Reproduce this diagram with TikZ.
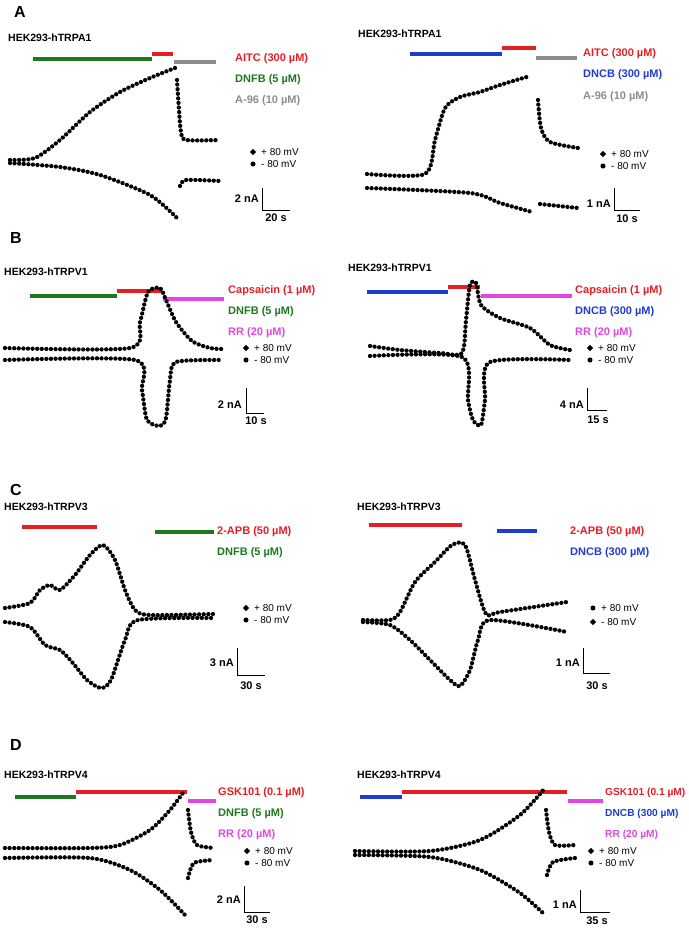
\documentclass[tikz,border=0pt]{standalone}
\usepackage{fontspec}
\setmainfont{Liberation Sans}
\definecolor{cred}{RGB}{230,30,35}
\definecolor{cgreen}{RGB}{30,120,30}
\definecolor{cblue}{RGB}{30,60,210}
\definecolor{cgray}{RGB}{140,140,140}
\definecolor{cmag}{RGB}{225,70,225}
\tikzset{
 trace/.style={line width=4.3pt,dash pattern=on 0pt off 4.6pt,line cap=round},
 bar/.style={line width=3.4pt},
 lab/.style={anchor=west,font=\bfseries\fontsize{11}{13}\selectfont,inner sep=0pt},
 labs/.style={anchor=west,font=\bfseries\fontsize{10.2}{12}\selectfont,inner sep=0pt},
 ttl/.style={anchor=west,font=\bfseries\fontsize{10.5}{12}\selectfont,inner sep=0pt},
 pan/.style={anchor=west,font=\bfseries\fontsize{16}{18}\selectfont,inner sep=0pt},
 leg/.style={anchor=west,font=\fontsize{10}{12}\selectfont,inner sep=0pt},
 sc/.style={font=\bfseries\fontsize{11}{13}\selectfont,inner sep=0pt},
 sb/.style={line width=0.9pt}
}
\newcommand{\legmark}[3]{%
 \node[diamond,fill=black,inner sep=1.6pt] (d#3) at (#1,#2) {};
 \node[leg] (dl#3) at (#1+8,#2) {+ 80 mV};
 \node[circle,fill=black,inner sep=1.8pt] (c#3) at (#1,#2+12) {};
 \node[leg] (cl#3) at (#1+8,#2+12) {- 80 mV};}
\usetikzlibrary{shapes.geometric}
\begin{document}
\begin{tikzpicture}[x=1pt,y=-1pt,smooth/.append style={tension=0.45}]
\useasboundingbox (0,0) rectangle (688,928);
% ===== A left
\node[pan] (pA) at (14,12) {A};
\node[ttl] (tA1) at (8,38) {HEK293-hTRPA1};
\draw[bar,cgreen] (33,59) -- (152,59);
\draw[bar,cred] (152,54) -- (173,54);
\draw[bar,cgray] (174,62) -- (216,62);
\node[lab,cred] (a1) at (235,59) {AITC (300 µM)};
\node[lab,cgreen] (a2) at (235,80) {DNFB (5 µM)};
\node[lab,cgray] (a3) at (235,101) {A-96 (10 µM)};
\legmark{253}{152}{A1}
\node[sc,anchor=east] (sA1) at (259,199) {2 nA};
\draw[sb] (262,188) -- (262,210) -- (290,210);
\node[sc] (sA1t) at (276,218) {20 s};
\draw[trace] plot[smooth] coordinates {(10,160) (35,158) (60,140) (90,112) (120,92) (150,78) (175,68)};
\draw[trace] plot[smooth] coordinates {(177,80) (179,110) (181,132) (186,140) (220,140)};
\draw[trace] plot[smooth] coordinates {(10,163) (60,167) (100,175) (150,195) (177,218)};
\draw[trace] plot[smooth] coordinates {(180,186) (186,180) (220,181)};
% ===== A right
\node[ttl] (tA2) at (358,34) {HEK293-hTRPA1};
\draw[bar,cblue] (410,54) -- (502,54);
\draw[bar,cred] (502,48) -- (536,48);
\draw[bar,cgray] (536,58) -- (577,58);
\node[lab,cred] (b1) at (583,54) {AITC (300 µM)};
\node[lab,cblue] (b2) at (583,75) {DNCB (300 µM)};
\node[lab,cgray] (b3) at (583,97) {A-96 (10 µM)};
\legmark{603}{154}{A2}
\node[sc,anchor=east] (sA2) at (611,204) {1 nA};
\draw[sb] (614,188) -- (614,210) -- (640,210);
\node[sc] (sA2t) at (627,219) {10 s};
\draw[trace] plot[smooth] coordinates {(367,174) (425,174) (435,140) (445,108) (460,97) (480,92) (500,85) (530,76)};
\draw[trace] plot[smooth] coordinates {(538,100) (541,128) (550,142) (578,148)};
\draw[trace] plot[smooth] coordinates {(367,188) (470,193) (500,203) (532,212)};
\draw[trace] plot[smooth] coordinates {(540,204) (578,208)};
% ===== B left
\node[pan] (pB) at (10,238) {B};
\node[ttl] (tB1) at (4,272) {HEK293-hTRPV1};
\draw[bar,cgreen] (30,296) -- (117,296);
\draw[bar,cred] (117,291) -- (162,291);
\draw[bar,cmag] (163,299) -- (224,299);
\node[lab,cred] (c1) at (228,291) {Capsaicin (1 µM)};
\node[lab,cgreen] (c2) at (228,312) {DNFB (5 µM)};
\node[lab,cmag] (c3) at (228,333) {RR (20 µM)};
\legmark{246}{348}{B1}
\node[sc,anchor=east] (sB1) at (242,405) {2 nA};
\draw[sb] (246,388) -- (246,413) -- (264,413);
\node[sc] (sB1t) at (256,421) {10 s};
\draw[trace] plot[smooth] coordinates {(5,348) (130,348) (140,322) (148,292) (160,288) (166,300) (176,322) (192,341) (210,348) (222,349)};
\draw[trace] plot[smooth] coordinates {(5,360) (135,360) (142,390) (147,420) (160,426) (166,418) (170,380) (176,362) (222,360)};
% ===== B right
\node[ttl] (tB2) at (348,268) {HEK293-hTRPV1};
\draw[bar,cblue] (367,292) -- (448,292);
\draw[bar,cred] (448,287) -- (480,287);
\draw[bar,cmag] (481,296) -- (572,296);
\node[lab,cred] (d1) at (575,291) {Capsaicin (1 µM)};
\node[lab,cblue] (d2) at (575,312) {DNCB (300 µM)};
\node[lab,cmag] (d3) at (575,333) {RR (20 µM)};
\legmark{590}{348}{B2}
\node[sc,anchor=east] (sB2) at (584,405) {4 nA};
\draw[sb] (587,388) -- (587,410) -- (607,410);
\node[sc] (sB2t) at (598,420) {15 s};
\draw[trace] plot[smooth] coordinates {(370,346) (400,350) (440,353) (462,353) (466,320) (470,285) (476,283) (481,305) (500,318) (530,328) (550,345) (570,350)};
\draw[trace] plot[smooth] coordinates {(370,356) (462,357) (468,400) (473,420) (481,425) (485,400) (490,362) (570,360)};
% ===== C left
\node[pan] (pC) at (10,490) {C};
\node[ttl] (tC1) at (4,507) {HEK293-hTRPV3};
\draw[bar,cred] (22,527) -- (97,527);
\draw[bar,cgreen] (155,532) -- (214,532);
\node[lab,cred] (e1) at (217,532) {2-APB (50 µM)};
\node[lab,cgreen] (e2) at (217,553) {DNFB (5 µM)};
\legmark{246}{608}{C1}
\node[sc,anchor=east] (sC1) at (234,663) {3 nA};
\draw[sb] (237,648) -- (237,675) -- (265,675);
\node[sc] (sC1t) at (251,686) {30 s};
\draw[trace] plot[smooth] coordinates {(5,608) (30,603) (40,590) (50,585) (60,590) (75,575) (90,555) (103,545) (115,560) (125,590) (135,610) (150,615) (214,614)};
\draw[trace] plot[smooth] coordinates {(5,622) (30,627) (45,645) (60,650) (72,662) (87,680) (101,688) (111,680) (125,640) (138,620) (214,618)};
% ===== C right
\node[ttl] (tC2) at (357,507) {HEK293-hTRPV3};
\draw[bar,cred] (369,525) -- (462,525);
\draw[bar,cblue] (497,531) -- (537,531);
\node[lab,cred] (f1) at (570,532) {2-APB (50 µM)};
\node[lab,cblue] (f2) at (570,553) {DNCB (300 µM)};
\node[circle,fill=black,inner sep=1.8pt] (fc) at (593,608) {};
\node[leg] (fcl) at (601,608) {+ 80 mV};
\node[diamond,fill=black,inner sep=1.6pt] (fd) at (593,622) {};
\node[leg] (fdl) at (601,622) {- 80 mV};
\node[sc,anchor=east] (sC2) at (580,663) {1 nA};
\draw[sb] (583,648) -- (583,673) -- (610,673);
\node[sc] (sC2t) at (597,686) {30 s};
\draw[trace] plot[smooth] coordinates {(363,620) (390,620) (400,612) (415,582) (435,562) (452,545) (465,545) (475,580) (486,614) (500,612) (567,602)};
\draw[trace] plot[smooth] coordinates {(363,622) (390,625) (410,640) (430,660) (450,680) (460,686) (470,670) (478,640) (490,620) (567,632)};
% ===== D left
\node[pan] (pD) at (10,745) {D};
\node[ttl] (tD1) at (4,775) {HEK293-hTRPV4};
\draw[bar,cgreen] (15,797) -- (76,797);
\draw[bar,cred] (76,792) -- (187,792);
\draw[bar,cmag] (188,801) -- (216,801);
\node[lab,cred] (g1) at (218,793) {GSK101 (0.1 µM)};
\node[lab,cgreen] (g2) at (218,814) {DNFB (5 µM)};
\node[lab,cmag] (g3) at (218,835) {RR (20 µM)};
\legmark{247}{851}{D1}
\node[sc,anchor=east] (sD1) at (241,900) {2 nA};
\draw[sb] (244,886) -- (244,912) -- (270,912);
\node[sc] (sD1t) at (257,920) {30 s};
\draw[trace] plot[smooth] coordinates {(5,848) (90,848) (120,845) (150,830) (170,810) (185,790)};
\draw[trace] plot[smooth] coordinates {(188,810) (191,832) (197,845) (214,848)};
\draw[trace] plot[smooth] coordinates {(5,858) (90,858) (130,870) (160,890) (185,915)};
\draw[trace] plot[smooth] coordinates {(188,878) (194,863) (214,860)};
% ===== D right
\node[ttl] (tD2) at (357,775) {HEK293-hTRPV4};
\draw[bar,cblue] (360,797) -- (402,797);
\draw[bar,cred] (402,792) -- (567,792);
\draw[bar,cmag] (568,801) -- (603,801);
\node[labs,cred] (h1) at (605,793) {GSK101 (0.1 µM)};
\node[labs,cblue] (h2) at (605,814) {DNCB (300 µM)};
\node[labs,cmag] (h3) at (605,835) {RR (20 µM)};
\legmark{591}{851}{D2}
\node[sc,anchor=east] (sD2) at (577,905) {1 nA};
\draw[sb] (580,890) -- (580,912) -- (610,912);
\node[sc] (sD2t) at (597,921) {35 s};
\draw[trace] plot[smooth] coordinates {(355,851) (430,851) (480,840) (520,815) (545,788)};
\draw[trace] plot[smooth] coordinates {(546,810) (549,832) (555,845) (575,845)};
\draw[trace] plot[smooth] coordinates {(355,855) (430,857) (480,870) (520,893) (545,915)};
\draw[trace] plot[smooth] coordinates {(547,875) (553,862) (575,858)};
\end{tikzpicture}
\end{document}
